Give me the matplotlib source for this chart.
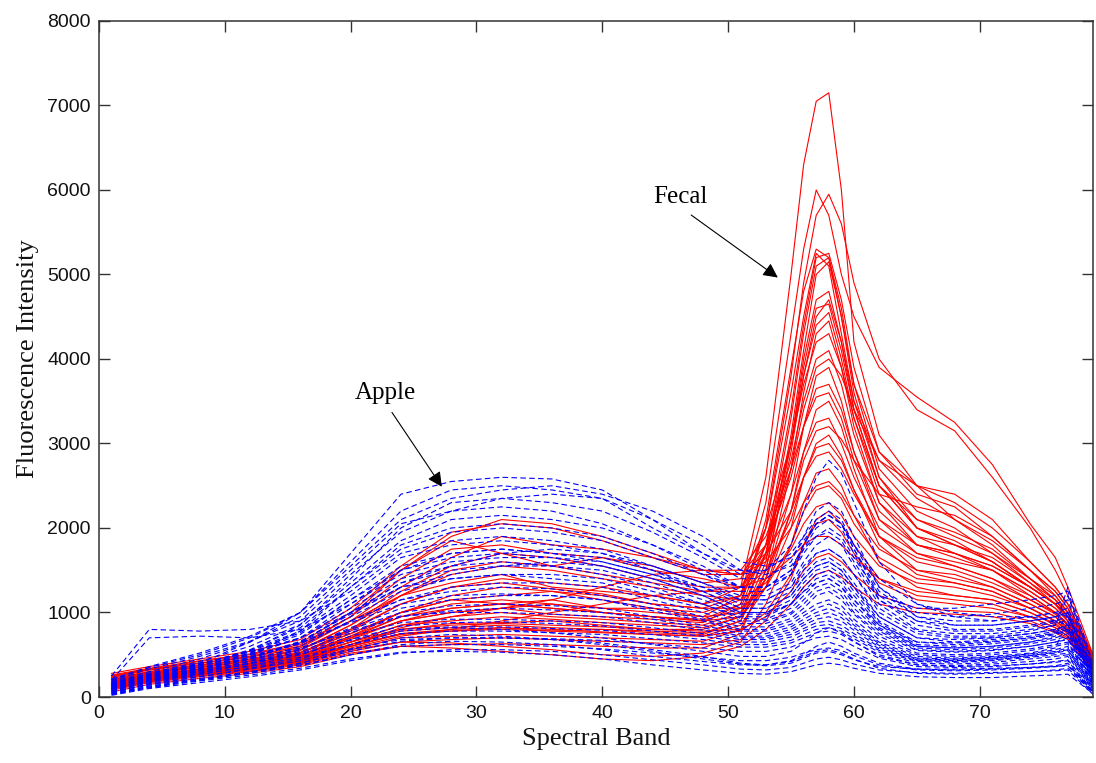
import matplotlib
matplotlib.use("Agg")
import matplotlib.pyplot as plt

# Spectral bands at which the curves are sampled
bands = [1, 4, 8, 12, 16, 20, 24, 28, 32, 36, 40, 44, 48, 51, 53, 55, 56, 57, 58, 59, 60, 62, 65, 68, 71, 74, 76, 77, 79]

# Fecal spectra (red, solid)
fecal_spectra = [
    [250, 330, 400, 480, 600, 900, 1200, 1350, 1450, 1300, 1250, 1200, 1100, 1300, 2600, 5000, 6300, 7050, 7150, 6000, 4200, 3100, 2500, 2100, 1800, 1400, 1200, 1000, 500],
    [200, 280, 350, 420, 520, 750, 1000, 1150, 1100, 1150, 1050, 1050, 950, 1200, 2300, 4300, 5300, 6000, 5700, 5000, 4500, 3900, 3550, 3250, 2750, 2050, 1650, 1300, 500],
    [180, 260, 330, 400, 500, 700, 900, 1000, 1050, 980, 950, 920, 880, 1100, 2000, 3800, 4900, 5700, 5950, 5600, 4900, 4000, 3400, 3150, 2600, 2000, 1500, 1200, 480],
    [150, 250, 320, 400, 500, 700, 900, 1050, 1100, 1050, 1000, 950, 900, 1050, 1800, 3400, 4400, 5200, 5250, 4700, 3900, 2900, 2400, 2250, 1900, 1500, 1200, 1000, 450],
    [120, 220, 300, 380, 480, 650, 800, 870, 880, 900, 850, 800, 800, 950, 1700, 3300, 4300, 5100, 5200, 4600, 3700, 2700, 2200, 2000, 1700, 1400, 1150, 950, 420],
    [100, 200, 280, 350, 450, 600, 750, 780, 820, 780, 800, 760, 740, 900, 1600, 3100, 4100, 5000, 5150, 4500, 3600, 2600, 2000, 1850, 1600, 1300, 1100, 900, 400],
    [220, 300, 380, 450, 560, 800, 1100, 1300, 1350, 1280, 1220, 1100, 1050, 1200, 2000, 3600, 4500, 5250, 5100, 4300, 3500, 2800, 2350, 2100, 1850, 1500, 1250, 1050, 500],
    [160, 240, 310, 380, 470, 650, 850, 950, 1000, 950, 920, 880, 850, 1000, 1700, 3000, 3900, 4600, 4650, 4100, 3400, 2500, 2000, 1800, 1600, 1300, 1100, 950, 430],
    [140, 230, 300, 370, 460, 620, 780, 820, 850, 820, 800, 780, 760, 900, 1500, 2900, 3800, 4500, 4700, 4200, 3500, 2600, 2100, 1900, 1700, 1350, 1150, 1000, 450],
    [200, 280, 360, 430, 530, 750, 1000, 1150, 1200, 1250, 1150, 1050, 1000, 1150, 1800, 3000, 3800, 4400, 4550, 4000, 3300, 2400, 1900, 1700, 1500, 1250, 1050, 900, 400],
    [90, 180, 260, 330, 420, 560, 700, 720, 740, 720, 700, 680, 660, 800, 1400, 2700, 3600, 4300, 4450, 3900, 3200, 2300, 1800, 1650, 1500, 1200, 1000, 850, 380],
    [250, 330, 420, 500, 620, 950, 1400, 1750, 1800, 1700, 1650, 1550, 1350, 1400, 2000, 3000, 3700, 4200, 4300, 3900, 3300, 2500, 2100, 1950, 1750, 1400, 1150, 950, 450],
    [180, 270, 350, 420, 520, 800, 1200, 1500, 1600, 1550, 1450, 1350, 1250, 1300, 1800, 2800, 3500, 4000, 4100, 3700, 3100, 2300, 1900, 1800, 1650, 1350, 1100, 950, 420],
    [130, 220, 290, 360, 450, 650, 850, 900, 950, 920, 880, 850, 820, 950, 1400, 2400, 3200, 3800, 3900, 3500, 2900, 2100, 1700, 1550, 1400, 1150, 1000, 850, 380],
    [230, 320, 400, 470, 580, 900, 1300, 1650, 1900, 1800, 1750, 1650, 1450, 1450, 1800, 2600, 3200, 3650, 3700, 3400, 2900, 2200, 1800, 1700, 1550, 1300, 1100, 950, 430],
    [110, 200, 270, 340, 430, 600, 750, 800, 820, 800, 770, 740, 720, 850, 1300, 2200, 2900, 3400, 3500, 3200, 2700, 1900, 1500, 1400, 1300, 1100, 950, 800, 350],
    [200, 290, 370, 440, 550, 850, 1250, 1550, 1700, 1650, 1550, 1400, 1300, 1300, 1650, 2400, 2900, 3250, 3300, 3000, 2600, 2000, 1700, 1600, 1500, 1250, 1050, 900, 400],
    [150, 240, 310, 380, 470, 680, 900, 1000, 1050, 1100, 1000, 950, 900, 950, 1300, 2000, 2600, 3000, 3100, 2850, 2450, 1800, 1450, 1350, 1250, 1050, 900, 780, 350],
    [260, 340, 430, 510, 640, 1000, 1500, 1900, 2100, 2050, 1900, 1700, 1500, 1450, 1700, 2200, 2600, 2850, 2900, 2700, 2400, 1900, 1650, 1550, 1400, 1200, 1000, 870, 400],
    [100, 190, 260, 320, 400, 560, 650, 640, 600, 560, 500, 480, 520, 650, 1100, 1800, 2300, 2650, 2700, 2500, 2150, 1600, 1300, 1200, 1150, 1000, 850, 750, 330],
    [170, 260, 330, 400, 490, 720, 1000, 1200, 1300, 1250, 1200, 1100, 1050, 1050, 1300, 1800, 2200, 2450, 2500, 2350, 2050, 1650, 1400, 1350, 1250, 1050, 900, 800, 360],
    [210, 300, 380, 450, 560, 850, 1200, 1450, 1550, 1500, 1400, 1300, 1200, 1150, 1350, 1750, 2050, 2250, 2300, 2150, 1900, 1550, 1350, 1300, 1200, 1050, 900, 780, 350],
    [120, 210, 280, 340, 420, 600, 740, 780, 800, 780, 760, 740, 720, 780, 1000, 1450, 1800, 2050, 2100, 1950, 1700, 1350, 1150, 1100, 1050, 950, 820, 720, 320],
    [240, 320, 400, 480, 600, 950, 1500, 1850, 1700, 1550, 1650, 1500, 1400, 1300, 1400, 1650, 1800, 1900, 1900, 1800, 1650, 1400, 1250, 1200, 1150, 1000, 870, 760, 340],
    [140, 230, 300, 360, 440, 620, 800, 850, 870, 850, 830, 800, 780, 800, 950, 1250, 1500, 1650, 1700, 1600, 1450, 1200, 1050, 1020, 1000, 900, 780, 700, 300],
    [80, 170, 240, 300, 380, 520, 600, 580, 540, 500, 450, 430, 480, 600, 800, 1100, 1300, 1450, 1500, 1420, 1300, 1100, 1000, 980, 950, 870, 760, 680, 290],
    [60, 150, 220, 280, 360, 500, 600, 620, 630, 620, 600, 580, 580, 750, 1500, 3000, 4000, 4700, 4800, 4200, 3400, 2500, 2000, 1800, 1600, 1300, 1100, 950, 420],
    [280, 360, 450, 540, 680, 1050, 1550, 1950, 2050, 2000, 1850, 1650, 1500, 1500, 1900, 2700, 3200, 3550, 3600, 3300, 2800, 2100, 1800, 1700, 1550, 1300, 1100, 950, 430],
    [100, 180, 250, 310, 390, 540, 650, 680, 700, 680, 660, 640, 620, 680, 900, 1400, 1800, 2100, 2200, 2050, 1800, 1400, 1200, 1150, 1100, 950, 820, 720, 320],
    [190, 280, 350, 420, 520, 780, 1100, 1300, 1400, 1350, 1300, 1200, 1100, 1200, 1700, 2700, 3400, 3900, 4000, 3800, 3400, 2800, 2500, 2400, 2100, 1600, 1300, 1100, 480],
    [160, 250, 320, 390, 480, 700, 950, 1100, 1150, 1100, 1050, 1000, 950, 1000, 1400, 2200, 2800, 3150, 3200, 3050, 2800, 2400, 2250, 2150, 1900, 1500, 1250, 1050, 460],
    [170, 260, 330, 400, 500, 720, 950, 1050, 1100, 1050, 1000, 950, 920, 1100, 2100, 3900, 4800, 5300, 5200, 4500, 3700, 2900, 2500, 2300, 2000, 1600, 1300, 1100, 480],
    [130, 210, 280, 340, 430, 620, 820, 950, 1050, 1150, 1300, 1450, 1500, 1450, 1600, 2000, 2300, 2500, 2550, 2400, 2150, 1750, 1500, 1450, 1300, 1100, 950, 820, 380],
    [110, 200, 270, 330, 410, 580, 720, 800, 900, 1000, 1100, 1200, 1250, 1250, 1500, 2100, 2600, 2950, 3000, 2800, 2450, 1900, 1600, 1500, 1350, 1150, 980, 850, 380],
]

# Apple spectra (blue, dashed)
apple_spectra = [
    [150, 250, 400, 650, 1000, 1700, 2400, 2550, 2600, 2580, 2450, 2100, 1700, 1500, 1500, 1700, 1900, 2100, 2200, 2100, 1800, 1400, 1100, 1000, 950, 950, 900, 850, 300],
    [200, 350, 500, 700, 1000, 1600, 2200, 2450, 2500, 2450, 2350, 2000, 1700, 1450, 1500, 1800, 2200, 2600, 2800, 2650, 2300, 1600, 1100, 950, 900, 950, 1000, 950, 350],
    [120, 220, 350, 550, 850, 1400, 2000, 2300, 2350, 2300, 2200, 1950, 1650, 1400, 1400, 1600, 1900, 2200, 2300, 2200, 1900, 1300, 950, 850, 850, 900, 950, 1000, 300],
    [180, 300, 450, 650, 950, 1500, 2050, 2200, 2250, 2200, 2050, 1800, 1550, 1300, 1300, 1500, 1800, 2050, 2150, 2050, 1750, 1200, 900, 800, 800, 850, 900, 950, 280],
    [100, 200, 330, 500, 780, 1300, 1800, 2000, 2050, 2000, 1900, 1700, 1450, 1250, 1250, 1450, 1750, 2000, 2100, 2000, 1700, 1150, 850, 780, 780, 830, 880, 900, 260],
    [250, 800, 780, 800, 900, 1250, 1700, 1850, 1900, 1850, 1750, 1550, 1350, 1200, 1200, 1350, 1600, 1800, 1900, 1800, 1550, 1100, 800, 750, 750, 800, 850, 1300, 400],
    [200, 700, 720, 700, 800, 1100, 1500, 1700, 1750, 1700, 1600, 1450, 1300, 1150, 1150, 1300, 1500, 1700, 1750, 1650, 1450, 1050, 780, 720, 720, 780, 850, 1200, 380],
    [150, 260, 380, 550, 780, 1200, 1650, 1800, 1850, 1800, 1700, 1550, 1350, 1150, 1150, 1300, 1550, 1700, 1750, 1650, 1450, 1000, 750, 700, 700, 750, 800, 850, 250],
    [130, 240, 360, 520, 740, 1150, 1550, 1700, 1750, 1700, 1650, 1500, 1300, 1100, 1100, 1250, 1450, 1600, 1650, 1550, 1350, 950, 700, 650, 680, 720, 780, 820, 230],
    [110, 220, 340, 500, 700, 1100, 1450, 1600, 1650, 1650, 1600, 1450, 1250, 1050, 1050, 1200, 1400, 1550, 1600, 1500, 1300, 900, 650, 620, 650, 700, 750, 800, 220],
    [160, 270, 390, 540, 760, 1150, 1500, 1650, 1700, 1650, 1550, 1400, 1200, 1000, 1000, 1150, 1350, 1500, 1550, 1450, 1250, 880, 620, 600, 630, 680, 740, 780, 200],
    [90, 200, 310, 450, 650, 1000, 1350, 1500, 1550, 1550, 1500, 1350, 1150, 980, 980, 1100, 1300, 1450, 1500, 1400, 1200, 850, 600, 580, 600, 650, 700, 750, 200],
    [140, 250, 370, 510, 700, 1050, 1400, 1550, 1600, 1550, 1450, 1300, 1100, 950, 950, 1100, 1250, 1400, 1450, 1350, 1150, 820, 600, 580, 600, 650, 720, 1000, 250],
    [100, 210, 320, 460, 640, 950, 1250, 1400, 1450, 1450, 1400, 1250, 1100, 930, 920, 1050, 1200, 1350, 1400, 1300, 1100, 800, 580, 560, 580, 630, 680, 720, 190],
    [170, 280, 400, 530, 700, 1000, 1300, 1400, 1450, 1400, 1350, 1200, 1050, 900, 900, 1000, 1150, 1300, 1350, 1250, 1050, 780, 560, 540, 560, 600, 650, 700, 180],
    [80, 190, 300, 430, 600, 900, 1150, 1300, 1350, 1350, 1300, 1150, 1000, 870, 870, 980, 1100, 1250, 1300, 1200, 1000, 750, 550, 530, 550, 600, 650, 680, 170],
    [120, 230, 340, 470, 630, 900, 1150, 1250, 1300, 1280, 1200, 1100, 950, 830, 830, 930, 1050, 1200, 1250, 1150, 980, 720, 520, 500, 520, 570, 620, 650, 160],
    [60, 170, 280, 400, 560, 820, 1050, 1150, 1200, 1200, 1150, 1050, 920, 800, 800, 900, 1000, 1100, 1150, 1080, 920, 680, 500, 480, 500, 550, 600, 630, 150],
    [150, 260, 370, 490, 640, 880, 1100, 1200, 1220, 1200, 1150, 1020, 900, 780, 780, 860, 960, 1050, 1100, 1030, 880, 650, 480, 460, 480, 520, 580, 900, 200],
    [100, 200, 300, 420, 570, 800, 1000, 1080, 1100, 1080, 1050, 950, 850, 750, 750, 830, 920, 1000, 1050, 980, 850, 630, 460, 450, 470, 510, 560, 600, 140],
    [70, 180, 280, 400, 540, 760, 950, 1020, 1050, 1030, 1000, 920, 820, 720, 720, 800, 880, 960, 1000, 940, 820, 610, 450, 440, 460, 500, 540, 580, 130],
    [130, 240, 340, 450, 580, 780, 960, 1000, 1000, 980, 950, 880, 790, 700, 700, 770, 850, 920, 950, 900, 790, 590, 440, 430, 450, 490, 530, 560, 120],
    [90, 190, 290, 390, 520, 720, 880, 920, 920, 900, 880, 820, 750, 680, 680, 740, 810, 880, 900, 850, 750, 570, 430, 420, 440, 480, 520, 550, 110],
    [50, 160, 260, 370, 500, 680, 840, 880, 890, 870, 840, 780, 720, 650, 650, 710, 780, 840, 860, 810, 720, 550, 420, 410, 430, 470, 500, 520, 100],
    [110, 210, 300, 400, 510, 670, 800, 830, 830, 810, 790, 740, 680, 620, 620, 670, 740, 800, 820, 780, 690, 530, 400, 390, 410, 450, 480, 500, 90],
    [80, 180, 270, 360, 470, 620, 750, 780, 780, 760, 740, 690, 640, 590, 590, 640, 700, 760, 780, 740, 650, 500, 380, 370, 390, 420, 450, 480, 80],
    [60, 150, 240, 330, 430, 570, 680, 700, 700, 690, 670, 630, 580, 540, 540, 590, 650, 700, 720, 680, 600, 460, 360, 350, 360, 390, 420, 440, 70],
    [40, 130, 210, 290, 380, 500, 600, 620, 620, 600, 570, 520, 470, 430, 430, 470, 520, 560, 580, 550, 490, 380, 320, 310, 320, 340, 360, 380, 60],
    [30, 110, 190, 260, 340, 450, 530, 540, 530, 500, 450, 380, 320, 280, 270, 300, 340, 380, 400, 380, 340, 280, 240, 230, 230, 250, 260, 270, 40],
    [50, 140, 220, 300, 400, 540, 660, 700, 700, 680, 640, 560, 480, 400, 380, 420, 480, 540, 560, 520, 450, 340, 280, 270, 280, 300, 320, 340, 50],
    [140, 250, 380, 560, 820, 1300, 1750, 1950, 2000, 1950, 1850, 1650, 1450, 1300, 1300, 1450, 1700, 1900, 2000, 1900, 1650, 1200, 1050, 1050, 1100, 1150, 1200, 1250, 350],
    [160, 280, 420, 600, 860, 1350, 1850, 2100, 2150, 2100, 2000, 1800, 1500, 1300, 1300, 1500, 1800, 2050, 2150, 2050, 1800, 1300, 1000, 950, 980, 1050, 1100, 1150, 320],
    [190, 330, 480, 660, 900, 1450, 1950, 2200, 2350, 2400, 2350, 2100, 1800, 1500, 1450, 1550, 1750, 1900, 1950, 1850, 1600, 1150, 900, 850, 850, 900, 950, 1000, 300],
    [210, 360, 520, 720, 1000, 1550, 2100, 2350, 2450, 2500, 2400, 2200, 1900, 1600, 1550, 1650, 1850, 2050, 2150, 2050, 1750, 1250, 950, 900, 900, 950, 1000, 1050, 330],
    [100, 200, 320, 460, 650, 1000, 1350, 1550, 1700, 1750, 1700, 1500, 1250, 1050, 1050, 1200, 1400, 1550, 1600, 1500, 1300, 950, 700, 680, 700, 750, 800, 850, 240],
    [120, 220, 330, 470, 660, 980, 1300, 1450, 1550, 1600, 1550, 1400, 1200, 1000, 1000, 1100, 1250, 1350, 1400, 1300, 1150, 850, 650, 640, 660, 700, 760, 800, 220],
    [20, 100, 170, 240, 320, 430, 520, 560, 560, 540, 500, 440, 380, 330, 320, 350, 400, 450, 470, 440, 390, 320, 290, 280, 290, 300, 310, 320, 30],
    [40, 120, 200, 280, 370, 500, 620, 660, 650, 620, 560, 480, 420, 380, 380, 430, 500, 600, 650, 600, 520, 400, 330, 320, 330, 350, 370, 400, 60],
    [60, 150, 240, 340, 450, 620, 780, 820, 800, 760, 700, 620, 540, 480, 480, 540, 640, 760, 820, 760, 660, 480, 380, 360, 370, 390, 410, 430, 50],
    [30, 120, 200, 290, 400, 560, 700, 740, 720, 680, 620, 540, 450, 390, 370, 400, 460, 520, 540, 500, 440, 360, 330, 330, 340, 350, 360, 370, 40],
]

x_ticks = [0, 10, 20, 30, 40, 50, 60, 70]
y_ticks = [0, 1000, 2000, 3000, 4000, 5000, 6000, 7000, 8000]

fig = plt.figure(figsize=(10.96, 7.63), dpi=100)
ax = fig.add_axes([0.0903, 0.0865, 0.9070, 0.886])

for s in fecal_spectra:
    ax.plot(bands, s, color=(1, 0, 0), lw=0.8)
for s in apple_spectra:
    ax.plot(bands, s, color=(0, 0, 1), lw=0.8, linestyle=(0, (5, 3)))

ax.set_xlim(0, 79)
ax.set_ylim(0, 8000)
ax.set_xticks(x_ticks)
ax.set_yticks(y_ticks)

for lab in ax.get_xticklabels() + ax.get_yticklabels():
    lab.set_fontfamily(['Liberation Sans', 'DejaVu Sans'])
    lab.set_fontsize(14)

ax.tick_params(direction='in', length=8, width=1, top=True, right=True, pad=6,
               colors='#333333', labelcolor='#111111')
for sp in ax.spines.values():
    sp.set_linewidth(1.1)
    sp.set_color('#333333')

serif = ['Liberation Serif', 'DejaVu Serif']
ax.set_xlabel('Spectral Band', fontfamily=serif, fontsize=19, color='#111111', labelpad=4)
ax.set_ylabel('Fluorescence Intensity', fontfamily=serif, fontsize=19, color='#111111', labelpad=6)

arrow = dict(arrowstyle='-|>', color='black', lw=0.8, mutation_scale=22, shrinkA=0, shrinkB=0)
ax.annotate('Fecal', xy=(53.95, 4964), xytext=(46.2, 5912), fontfamily=serif, fontsize=18,
            ha='center', va='center', arrowprops=dict(arrow, relpos=(0.7, -0.3)))
ax.annotate('Apple', xy=(27.25, 2488), xytext=(22.8, 3602), fontfamily=serif, fontsize=18,
            ha='center', va='center', arrowprops=dict(arrow, relpos=(0.6, -0.4)))

fig.savefig('out.png', dpi=100)
